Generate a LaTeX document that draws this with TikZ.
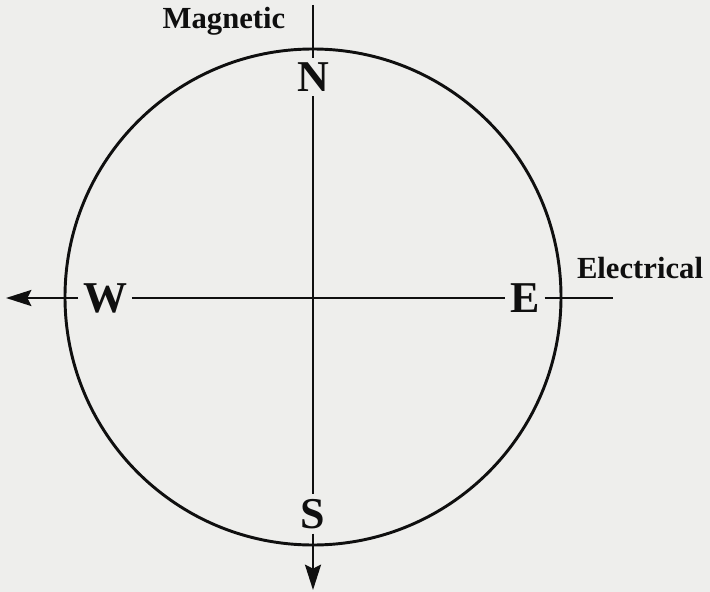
\documentclass[tikz,border=0pt]{standalone}
\usepackage{xcolor}
\usepackage{fontspec}
\setmainfont{Liberation Serif}
\usepackage{tikz}
\usetikzlibrary{arrows.meta, positioning}
\definecolor{PageGray}{RGB}{238, 238, 236}
\definecolor{InkBlack}{RGB}{15, 15, 15}

\begin{document}
\begin{tikzpicture}[x=0.75pt, y=-0.75pt,
    axisline/.style={draw=InkBlack, line width=2pt},
    axistip/.style={-{Stealth[length=19pt, width=12pt, inset=3pt]}},
    pointlabel/.style={font=\fontsize{33}{33}\selectfont\bfseries, text=InkBlack, inner sep=3.5pt},
    axisname/.style={font=\fontsize{23}{24}\selectfont\bfseries, text=InkBlack, inner sep=0pt}
  ]
    % page
    \fill[PageGray] (0,0) rectangle (710,592);
    \useasboundingbox (0,0) rectangle (710,592);

    % dial
    \node[circle, draw=InkBlack, line width=2.2pt, minimum size=372pt, inner sep=0pt] (dial) at (313,297) {};

    % compass points
    \node[pointlabel] (N) at (313,77) {N};
    \node[pointlabel] (S) at (313,514) {S};
    \node[pointlabel] (W) at (105,298) {W};
    \node[pointlabel] (E) at (525,298) {E};

    % axis ends
    \coordinate (magtop) at (313,5);
    \coordinate (magbot) at (313,590);
    \coordinate (elleft) at (6,298);
    \coordinate (elright) at (613,298);

    % magnetic axis
    \draw[axisline] (magtop) -- (N);
    \draw[axisline] (N) -- (S);
    \draw[axisline, axistip] (S) -- (magbot);

    % electrical axis
    \draw[axisline, axistip] (W) -- (elleft);
    \draw[axisline] (W) -- (E);
    \draw[axisline] (E) -- (elright);

    % axis names
    \node[axisname] (maglabel) at (224,21) {Magnetic};
    \node[axisname] (ellabel) at (640,268) {Electrical};
  \end{tikzpicture}
\end{document}
